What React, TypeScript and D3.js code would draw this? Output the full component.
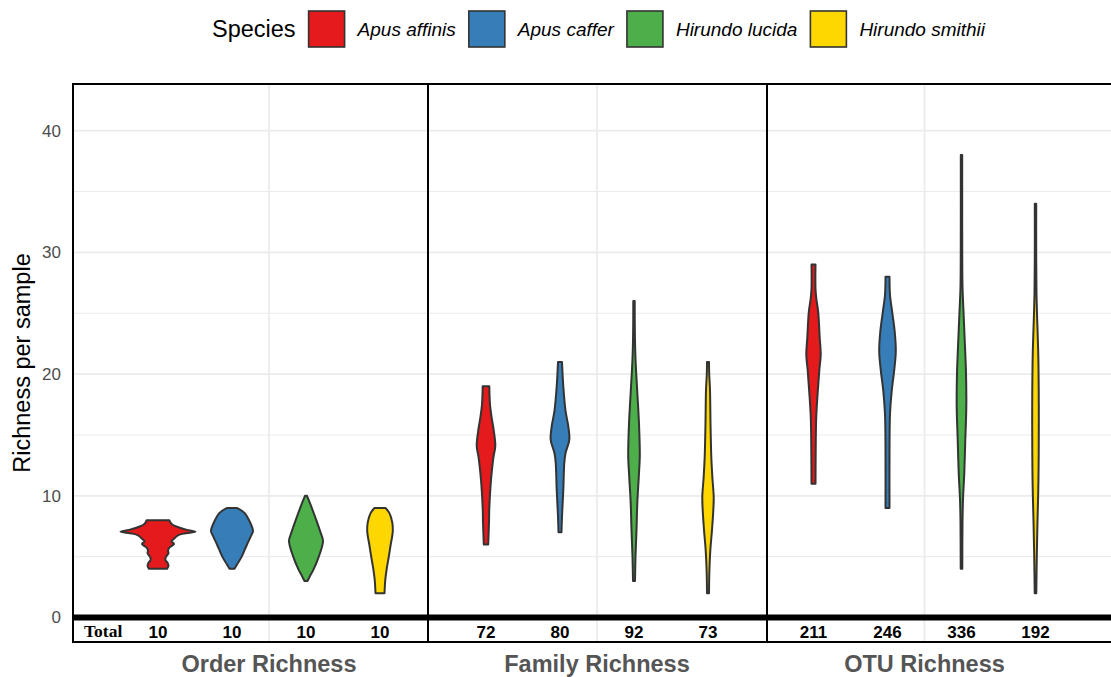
import * as React from 'react';
import * as d3 from 'd3';

const species = ['Apus affinis', 'Apus caffer', 'Hirundo lucida', 'Hirundo smithii'];
const speciesColors = ['#E41A1C', '#377EB8', '#4DAF4A', '#FFD700'];
const facets = ['Order Richness', 'Family Richness', 'OTU Richness'];
const yTicks = [0, 10, 20, 30, 40];
const yMinorTicks = [5, 15, 25, 35];

// total richness per species, one list per facet
const orderTotals = [10, 10, 10, 10];
const familyTotals = [72, 80, 92, 73];
const otuTotals = [211, 246, 336, 192];

// violin outlines: [richness, density]
const orderAffinis = [[4, 9], [4.25, 10.5], [4.5, 9.5], [4.7, 7.5], [4.9, 7.5], [5.1, 9], [5.3, 10.5], [5.5, 10], [5.7, 11], [5.9, 14], [6.05, 16], [6.25, 13.5], [6.4, 15], [6.55, 17], [6.75, 20], [6.9, 26], [7.05, 37.5], [7.2, 29], [7.4, 21], [7.6, 15], [7.8, 12.5], [8, 11.3]];
const orderCaffer = [[4, 2.5], [4.35, 5], [5, 9.7], [6, 15], [6.7, 19], [7.1, 21], [8, 17], [8.6, 12.5], [9, 4.7]];
const orderLucida = [[3, 1.5], [3.4, 4], [4, 7.8], [5, 12.8], [6.3, 17], [7, 14.5], [8, 10.3], [9, 5.8], [9.6, 3], [10, 1]];
const orderSmithii = [[2, 4.5], [3.1, 5.3], [4, 6.7], [5, 8.8], [6, 10.7], [7, 12.7], [7.8, 12.3], [8.6, 9.3], [9, 5.5]];

const familyAffinis = [[6, 2.2], [7.8, 3], [9, 3.3], [11, 4.7], [12, 5.8], [13.2, 7.5], [14.1, 9.3], [15.4, 7.7], [16.5, 5.5], [17.5, 4], [19, 3.3]];
const familyCaffer = [[7, 1.5], [8.3, 2], [10.5, 3.3], [12.7, 4.3], [13.5, 5.5], [14.6, 9.3], [15.7, 8.3], [17, 5.5], [19, 3.3], [21, 2]];
const familyLucida = [[3, 1], [5, 1.5], [7.2, 2.5], [9.4, 3.3], [11.6, 4.8], [13.3, 5.8], [15.9, 5], [18.5, 3.3], [20.4, 2], [22, 1.2], [24, 0.8], [26, 0.7]];
const familySmithii = [[2, 1], [3.6, 1.3], [5.5, 2.3], [7.2, 4], [8.8, 5.3], [9.9, 5.7], [11.6, 4.3], [13.2, 3.3], [16, 2.5], [18.7, 2], [20, 1.2], [21, 1]];

const otuAffinis = [[11, 2], [14.7, 2.3], [16.6, 2.8], [18.6, 4.3], [20.3, 5.8], [21.6, 7.2], [23, 6.2], [25.1, 4.7], [26.2, 2.8], [27, 2], [29, 2]];
const otuCaffer = [[9, 2], [13.4, 2], [16.7, 2.5], [18.6, 4.2], [20.3, 6.7], [21.9, 8.3], [23.5, 7.2], [25.1, 4.7], [26.5, 2.5], [28, 2]];
const otuLucida = [[4, 0.8], [7.8, 1], [9.7, 1.5], [11.9, 2.8], [14.6, 3.8], [17.3, 4.8], [20.1, 4.5], [22.8, 3.2], [25.5, 1.8], [27.2, 1], [32, 0.7], [38, 0.7]];
const otuSmithii = [[2, 0.8], [5.1, 1.3], [7.9, 2], [10.6, 2.8], [13.3, 3.2], [17.4, 3.3], [21.5, 2.8], [25, 1.5], [26.6, 1], [30, 0.7], [34, 0.7]];

const facetTotals = [orderTotals, familyTotals, otuTotals];
const facetViolins = [
  [orderAffinis, orderCaffer, orderLucida, orderSmithii],
  [familyAffinis, familyCaffer, familyLucida, familySmithii],
  [otuAffinis, otuCaffer, otuLucida, otuSmithii]
];

const W = 1111;
const H = 677;
const left = 73;
const top = 84;
const rowBottom = 642;
const facetEdges = [73, 428, 767];
const facetCenters = [269, 597, 924.5];
const step = 74;

const sans = "'Liberation Sans', Arial, sans-serif";
const stroke = '#333333';

const measure = (() => {
  let ctx: CanvasRenderingContext2D | null = null;
  return (txt: string, font: string) => {
    if (!ctx) ctx = document.createElement('canvas').getContext('2d');
    if (!ctx) return txt.length * 9;
    ctx.font = font;
    return ctx.measureText(txt).width;
  };
})();

export default function App() {
  const y = d3.scaleLinear().domain([0, 40]).range([617.5, 130.7]);
  const w = d3.scaleLinear().domain([0, 40]).range([0, 40]);
  const zeroY = y(0);

  const xScales = facetCenters.map(c =>
    d3.scalePoint<string>().domain(species).range([c - step * 1.5, c + step * 1.5])
  );

  const violinPath = (pts: number[][], cx: number) =>
    d3.area<number[]>()
      .y(d => y(d[0]))
      .x0(d => cx - w(d[1]))
      .x1(d => cx + w(d[1]))
      .curve(d3.curveCatmullRom.alpha(0.5))(pts) || '';

  // legend layout
  const legendFont = `italic 19px ${sans}`;
  const titleFont = `23.5px ${sans}`;
  const gap = 13;
  const box = 36;
  let lx = 212;
  const titleX = lx;
  lx += measure('Species', titleFont) + gap;
  const legendItems = species.map((s, i) => {
    const bx = lx;
    const tx = bx + box + gap;
    lx = tx + measure(s, legendFont) + gap;
    return {s, color: speciesColors[i], bx, tx};
  });

  return (
    <svg width={W} height={H} style={{position: 'absolute', left: 0, top: 0, background: '#fff'}}>
      {/* legend */}
      <g fontFamily={sans}>
        <text x={titleX} y={29} dy="0.35em" fontSize={23.5} fill="#000">Species</text>
        {legendItems.map(d => (
          <g key={d.s}>
            <rect x={d.bx} y={11} width={box} height={box} fill={d.color} stroke={stroke} strokeWidth={1.6} />
            <text x={d.tx} y={29} dy="0.35em" fontSize={19} fontStyle="italic" fill="#000">{d.s}</text>
          </g>
        ))}
      </g>

      {/* grid */}
      {yMinorTicks.map(t => (
        <line key={'m' + t} x1={left} x2={W} y1={y(t)} y2={y(t)} stroke="#ebebeb" strokeWidth={1} />
      ))}
      {yTicks.filter(t => t > 0).map(t => (
        <line key={'g' + t} x1={left} x2={W} y1={y(t)} y2={y(t)} stroke="#ebebeb" strokeWidth={1.8} />
      ))}
      {facetCenters.map(c => (
        <line key={'v' + c} x1={c} x2={c} y1={top} y2={rowBottom} stroke="#ebebeb" strokeWidth={1.8} />
      ))}

      {/* y axis */}
      <g fontFamily={sans} fontSize={17} fill="#4d4d4d" textAnchor="end">
        {yTicks.map(t => (
          <text key={t} x={61} y={y(t)} dy="0.35em">{t}</text>
        ))}
      </g>
      <text transform={`translate(30,${(top + rowBottom) / 2}) rotate(-90)`} textAnchor="middle"
        fontFamily={sans} fontSize={23.5} fill="#000">Richness per sample</text>

      {/* violins */}
      {facetViolins.map((vs, f) => vs.map((pts, i) => (
        <path key={f + '-' + i} d={violinPath(pts, xScales[f](species[i])!)}
          fill={speciesColors[i]} stroke={stroke} strokeWidth={2} strokeLinejoin="round" />
      )))}

      {/* frame */}
      <rect x={left} y={zeroY - 3} width={W - left} height={6} fill="#000" />
      <line x1={left} x2={W} y1={top} y2={top} stroke="#000" strokeWidth={2} />
      <line x1={left} x2={W} y1={rowBottom} y2={rowBottom} stroke="#000" strokeWidth={2} />
      {facetEdges.map(x => (
        <line key={'e' + x} x1={x} x2={x} y1={top - 1} y2={rowBottom + 1} stroke="#000" strokeWidth={2} />
      ))}

      {/* totals row */}
      <text x={84} y={637} fontFamily="'Liberation Serif', 'Times New Roman', serif" fontWeight="bold" fontSize={17.5} fill="#000">Total</text>
      {facetTotals.map((tot, f) => tot.map((v, i) => (
        <text key={'t' + f + i} x={xScales[f](species[i])} y={637.5} textAnchor="middle"
          fontFamily={sans} fontWeight="bold" fontSize={17} fill="#000">{v}</text>
      )))}

      {/* facet labels */}
      {facets.map((name, f) => (
        <text key={name} x={facetCenters[f]} y={672} textAnchor="middle" fontFamily={sans}
          fontWeight="bold" fontSize={23.5} fill="#555555">{name}</text>
      ))}
    </svg>
  );
}
